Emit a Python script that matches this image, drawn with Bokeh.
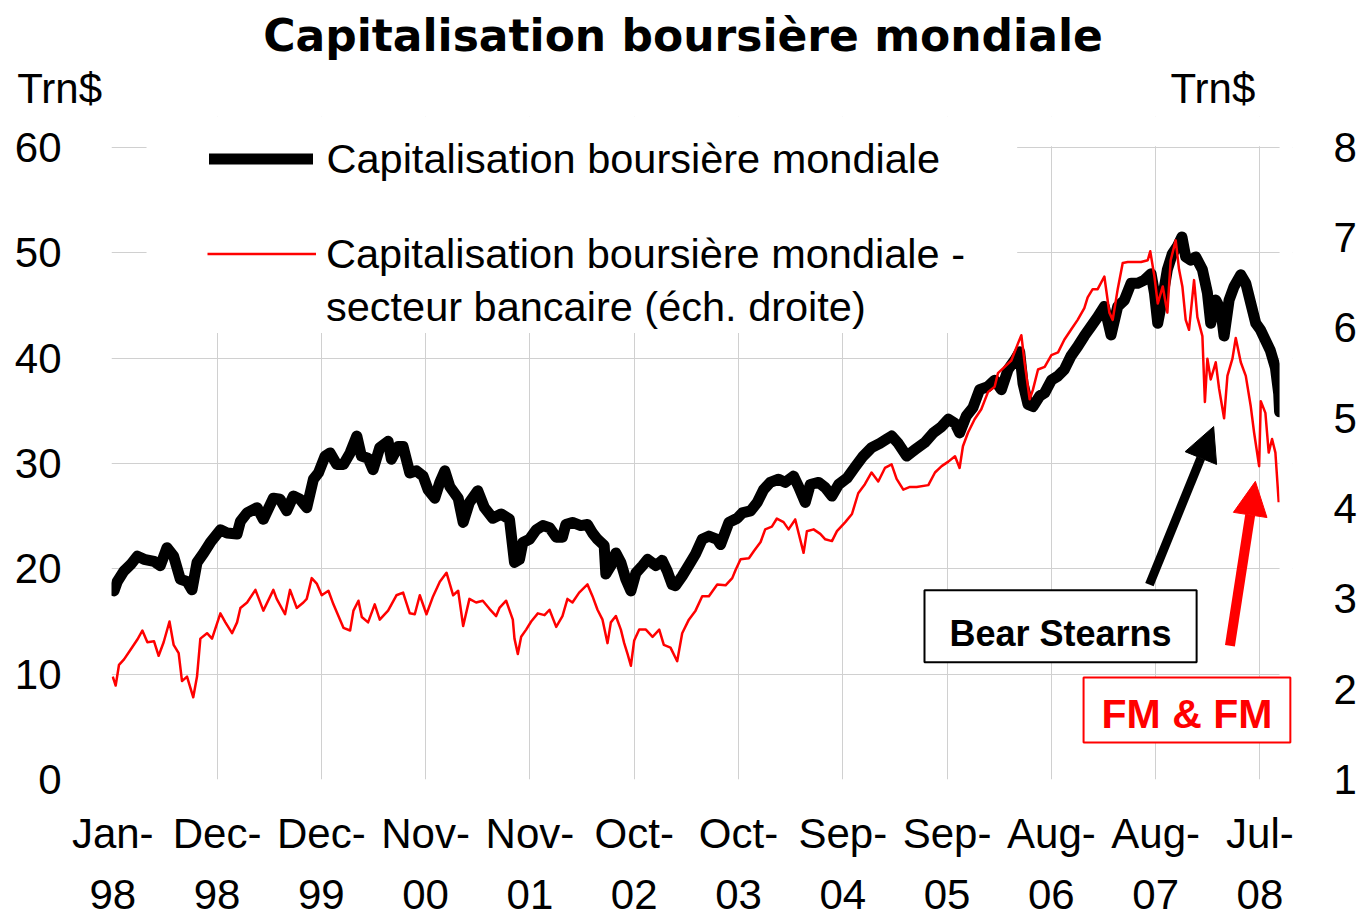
from bokeh.plotting import figure
from bokeh.layouts import column
from bokeh.models import (Range1d, LinearAxis, FixedTicker, Legend, LegendItem,
                          Label, Arrow, NormalHead, BoxAnnotation)
from bokeh.embed import file_html
from bokeh.resources import INLINE

FONT = "Liberation Sans"

# x positions are trading-day indices counted from Jan-98
tick_pos = [0, 250, 500, 750, 1000, 1250, 1500, 1750, 2000, 2250, 2500, 2750]
tick_labels = ["Jan-\n98", "Dec-\n98", "Dec-\n99", "Nov-\n00", "Nov-\n01", "Oct-\n02",
               "Oct-\n03", "Sep-\n04", "Sep-\n05", "Aug-\n06", "Aug-\n07", "Jul-\n08"]
left_ticks = [0, 10, 20, 30, 40, 50, 60]
right_ticks = [1, 2, 3, 4, 5, 6, 7, 8]

# World market capitalisation (Trn$, left axis)
world_idx = [
    3, 11, 27, 43, 59, 75, 99, 114, 130, 146,
    162, 178, 190, 202, 218, 234, 258, 274, 298, 306,
    322, 346, 361, 385, 401, 417, 433, 449, 465, 481,
    493, 509, 521, 537, 553, 569, 585, 596, 612, 624,
    640, 660, 668, 684, 696, 712, 728, 744, 756, 772,
    784, 796, 808, 828, 840, 855, 875, 891, 911, 931,
    951, 963, 975, 983, 999, 1015, 1031, 1047, 1063, 1078,
    1086, 1102, 1122, 1138, 1150, 1162, 1178, 1182, 1194, 1206,
    1218, 1230, 1242, 1254, 1270, 1282, 1302, 1317, 1329, 1341,
    1349, 1365, 1385, 1397, 1413, 1429, 1449, 1457, 1477, 1497,
    1509, 1529, 1545, 1560, 1576, 1596, 1612, 1632, 1644, 1660,
    1672, 1692, 1708, 1724, 1740, 1760, 1780, 1799, 1819, 1839,
    1855, 1867, 1883, 1903, 1923, 1947, 1967, 1987, 2003, 2019,
    2030, 2046, 2062, 2078, 2098, 2114, 2130, 2146, 2162, 2174,
    2182, 2194, 2206, 2222, 2234, 2250, 2266, 2281, 2297, 2313,
    2329, 2345, 2361, 2377, 2393, 2409, 2425, 2441, 2457, 2473,
    2489, 2497, 2505, 2517, 2528, 2540, 2552, 2563, 2572, 2584,
    2596, 2612, 2624, 2632, 2644, 2656, 2664, 2676, 2688, 2704,
    2716, 2728, 2740, 2751, 2763, 2775, 2787, 2795, 2797]
world_val = [
    17.9, 18.8, 19.8, 20.4, 21.2, 20.9, 20.7, 20.3, 22.0, 21.2,
    19.0, 18.8, 18.0, 20.6, 21.5, 22.5, 23.7, 23.4, 23.3, 24.5,
    25.3, 25.8, 24.7, 26.7, 26.6, 25.5, 26.9, 26.6, 25.8, 28.5,
    29.1, 30.7, 31.0, 29.9, 29.9, 31.0, 32.6, 30.7, 30.5, 29.4,
    31.5, 32.1, 30.4, 31.6, 31.6, 29.1, 29.3, 28.8, 27.5, 26.7,
    28.2, 29.3, 27.8, 26.7, 24.4, 26.3, 27.4, 25.8, 24.8, 25.2,
    24.7, 20.6, 20.9, 22.5, 22.8, 23.7, 24.1, 23.9, 23.0, 23.0,
    24.2, 24.4, 24.1, 24.2, 23.4, 22.8, 22.2, 19.5, 20.3, 21.5,
    20.6, 19.0, 17.9, 19.6, 20.3, 20.9, 20.3, 20.8, 19.8, 18.5,
    18.4, 19.3, 20.6, 21.4, 22.8, 23.1, 22.8, 22.3, 24.4, 24.8,
    25.3, 25.5, 26.3, 27.5, 28.2, 28.5, 28.2, 28.8, 27.8, 26.3,
    28.0, 28.2, 27.7, 26.9, 28.0, 28.6, 29.7, 30.7, 31.5, 31.9,
    32.3, 32.6, 31.9, 30.7, 31.3, 32.0, 32.9, 33.5, 34.2, 33.8,
    32.9, 34.5, 35.3, 37.0, 37.3, 37.9, 37.0, 38.9, 39.8, 40.6,
    37.6, 35.6, 35.4, 36.4, 36.7, 37.9, 38.3, 38.9, 40.2, 41.1,
    42.1, 43.0, 43.9, 44.9, 42.2, 44.9, 45.5, 47.1, 47.1, 47.4,
    48.0, 46.2, 43.3, 45.8, 48.4, 49.9, 50.6, 51.5, 49.6, 49.3,
    49.6, 48.4, 46.2, 43.3, 45.5, 44.6, 42.1, 45.5, 46.8, 47.9,
    47.1, 45.2, 43.3, 42.7, 41.7, 40.7, 39.1, 36.6, 34.9]

# World market capitalisation - banking sector (Trn$, right axis)
bank_idx = [
    0, 7, 15, 27, 43, 59, 71, 83, 99, 110,
    122, 136, 146, 158, 166, 178, 193, 202, 210, 226,
    238, 258, 270, 286, 298, 306, 322, 342, 361, 385,
    393, 413, 425, 441, 457, 465, 477, 489, 501, 517,
    529, 541, 553, 569, 577, 589, 597, 612, 628, 640,
    660, 680, 696, 712, 724, 736, 752, 768, 784, 800,
    816, 828, 840, 855, 871, 887, 903, 919, 927, 943,
    959, 963, 971, 979, 991, 1003, 1019, 1035, 1047, 1063,
    1078, 1090, 1102, 1118, 1138, 1150, 1162, 1174, 1186, 1194,
    1206, 1218, 1226, 1234, 1242, 1250, 1262, 1278, 1294, 1310,
    1321, 1337, 1353, 1365, 1381, 1397, 1413, 1429, 1449, 1469,
    1485, 1493, 1505, 1525, 1537, 1553, 1564, 1580, 1592, 1608,
    1620, 1636, 1644, 1656, 1664, 1680, 1696, 1708, 1724, 1736,
    1756, 1772, 1787, 1803, 1819, 1835, 1851, 1867, 1879, 1895,
    1911, 1927, 1955, 1971, 1987, 2003, 2019, 2030, 2038, 2050,
    2066, 2082, 2098, 2114, 2122, 2138, 2154, 2170, 2178, 2186,
    2198, 2206, 2218, 2234, 2250, 2266, 2281, 2297, 2313, 2329,
    2337, 2349, 2361, 2377, 2389, 2397, 2409, 2421, 2433, 2449,
    2465, 2481, 2487, 2497, 2505, 2517, 2528, 2536, 2548, 2556,
    2564, 2572, 2580, 2592, 2600, 2612, 2618, 2624, 2632, 2644,
    2652, 2664, 2672, 2684, 2692, 2704, 2716, 2728, 2736, 2748,
    2752, 2763, 2771, 2779, 2787, 2795]
bank_val = [
    2.14, 2.04, 2.27, 2.33, 2.44, 2.55, 2.65, 2.52, 2.53, 2.37,
    2.52, 2.75, 2.49, 2.40, 2.09, 2.14, 1.91, 2.14, 2.56, 2.62,
    2.56, 2.84, 2.74, 2.62, 2.74, 2.90, 2.96, 3.10, 2.87, 3.10,
    3.00, 2.83, 3.10, 2.90, 2.96, 3.00, 3.23, 3.17, 3.04, 3.09,
    2.94, 2.81, 2.68, 2.65, 2.87, 2.98, 2.80, 2.74, 2.94, 2.77,
    2.87, 3.04, 3.07, 2.84, 2.83, 3.04, 2.83, 3.03, 3.19, 3.29,
    3.04, 3.09, 2.70, 3.00, 2.96, 2.98, 2.89, 2.81, 2.90, 2.98,
    2.77, 2.56, 2.39, 2.58, 2.66, 2.75, 2.84, 2.82, 2.88, 2.69,
    2.81, 3.00, 2.96, 3.07, 3.16, 3.03, 2.88, 2.77, 2.51, 2.74,
    2.81, 2.66, 2.51, 2.39, 2.26, 2.54, 2.66, 2.66, 2.58, 2.66,
    2.49, 2.46, 2.31, 2.62, 2.77, 2.87, 3.03, 3.03, 3.16, 3.15,
    3.23, 3.32, 3.44, 3.45, 3.53, 3.63, 3.77, 3.80, 3.89, 3.85,
    3.77, 3.88, 3.73, 3.51, 3.75, 3.77, 3.72, 3.66, 3.64, 3.75,
    3.85, 3.94, 4.17, 4.27, 4.40, 4.30, 4.45, 4.49, 4.33, 4.21,
    4.24, 4.24, 4.26, 4.40, 4.47, 4.52, 4.58, 4.45, 4.69, 4.84,
    4.99, 5.10, 5.29, 5.35, 5.50, 5.57, 5.64, 5.83, 5.92, 5.61,
    5.21, 5.32, 5.54, 5.57, 5.70, 5.73, 5.87, 5.98, 6.09, 6.22,
    6.34, 6.43, 6.43, 6.57, 6.17, 6.09, 6.43, 6.72, 6.73, 6.73,
    6.73, 6.75, 6.85, 6.57, 6.27, 6.46, 6.17, 6.75, 6.97, 6.65,
    6.46, 6.09, 5.98, 6.53, 6.12, 5.91, 5.18, 5.66, 5.43, 5.62,
    5.33, 5.00, 5.47, 5.66, 5.89, 5.62, 5.47, 5.13, 4.84, 4.47,
    5.19, 5.06, 4.62, 4.77, 4.62, 4.07]

title_text = "Capitalisation boursière mondiale"
unit_text = "Trn$"
legend_world = "Capitalisation boursière mondiale"
legend_bank_1 = "Capitalisation boursière mondiale -"
legend_bank_2 = "secteur bancaire (éch. droite)"

# ---- header strip: title and the two unit labels (page pixels) ----
HDR_H = 116
hdr = figure(width=1359, height=HDR_H, output_backend="svg", toolbar_location=None,
             title=None, x_range=Range1d(0, 1359), y_range=Range1d(0, HDR_H),
             min_border=0, x_axis_location=None, y_axis_location=None)
hdr.frame_align = False
hdr.outline_line_color = None
hdr.grid.visible = False
hdr.add_layout(Label(x=682.5, y=81.5, text=title_text, text_align="center",
                     text_baseline="alphabetic", text_font="DejaVu Sans",
                     text_font_size="44px", text_font_style="bold", text_color="black"))
hdr.add_layout(Label(x=16.7, y=27.7, text=unit_text, text_align="left",
                     text_baseline="alphabetic", text_font=FONT,
                     text_font_size="42px", text_color="black"))
hdr.add_layout(Label(x=1170, y=27.7, text=unit_text, text_align="left",
                     text_baseline="alphabetic", text_font=FONT,
                     text_font_size="42px", text_color="black"))

# ---- main chart: frame x 111..1295 px, y 116..781 px (grid only 0..60) ----
p = figure(width=1359, height=920 - HDR_H, output_backend="svg", toolbar_location=None,
           title=None,
           x_range=Range1d(-3, 2828), y_range=Range1d(0, 62.93),
           min_border_left=111, min_border_right=64, min_border_top=0,
           min_border_bottom=139)
p.frame_align = False
p.extra_y_ranges = {"right": Range1d(1, 8.342)}
p.outline_line_color = None
p.background_fill_color = "white"

GRID = "#d0d0d0"
p.xgrid.ticker = FixedTicker(ticks=tick_pos[1:])
p.ygrid.ticker = FixedTicker(ticks=left_ticks)
p.xgrid.grid_line_color = GRID
p.ygrid.grid_line_color = GRID

def style_axis(ax, standoff):
    ax.axis_line_color = None
    ax.major_tick_line_color = None
    ax.minor_tick_line_color = None
    ax.major_label_text_font = FONT
    ax.major_label_text_font_size = "42px"
    ax.major_label_text_color = "black"
    ax.major_label_standoff = standoff

p.xaxis.ticker = FixedTicker(ticks=tick_pos)
p.xaxis.major_label_overrides = dict(zip(tick_pos, tick_labels))
style_axis(p.xaxis[0], 24)
p.xaxis.major_label_text_line_height = 1.3

p.yaxis.ticker = FixedTicker(ticks=left_ticks)
style_axis(p.yaxis[0], 44)

raxis = LinearAxis(y_range_name="right", ticker=FixedTicker(ticks=right_ticks))
style_axis(raxis, 35)
p.add_layout(raxis, "right")

world = p.line(world_idx, world_val, line_color="black", line_width=11,
               line_join="round", line_cap="round")
bank = p.line(bank_idx, bank_val, line_color="#ff0000", line_width=2.5,
              line_join="round", y_range_name="right")

# white panels: above the 60 line, right of the plot area, and behind the legend
p.add_layout(BoxAnnotation(left=-10, right=2900, bottom=60.1, top=70,
                           fill_color="white", fill_alpha=1.0, line_color=None))
p.add_layout(BoxAnnotation(left=2797, right=2900, bottom=-5, top=70,
                           fill_color="white", fill_alpha=1.0, line_color=None))
p.add_layout(BoxAnnotation(left=81, right=2168, bottom=42.37, top=61,
                           fill_color="white", fill_alpha=1.0, line_color=None))

common = dict(padding=0, margin=0, spacing=0, glyph_height=53, label_height=53,
              label_text_font=FONT, label_text_font_size="41.5px",
              label_text_color="black", background_fill_color="white",
              background_fill_alpha=1.0, border_line_color=None)
legend_a = Legend(items=[LegendItem(label=legend_world, renderers=[world])],
                  location=(97.5, 594), glyph_width=104, label_standoff=14, **common)
legend_b = Legend(items=[LegendItem(label=legend_bank_1, renderers=[bank]),
                         LegendItem(label=legend_bank_2, renderers=[])],
                  location=(96, 446), glyph_width=109, label_standoff=10, **common)
p.add_layout(legend_a, "center")
p.add_layout(legend_b, "center")

p.add_layout(Arrow(end=NormalHead(size=34, fill_color="black", line_color="black"),
                   x_start=2485, y_start=18.5, x_end=2639, y_end=33.5,
                   line_color="black", line_width=9))
p.add_layout(Arrow(end=NormalHead(size=34, fill_color="#ff0000", line_color="#ff0000"),
                   x_start=2678, y_start=12.7, x_end=2739, y_end=28.3,
                   line_color="#ff0000", line_width=10))

p.add_layout(Label(x=2272, y=14.55, text="Bear Stearns", text_align="center",
                   text_baseline="alphabetic", text_font=FONT,
                   text_font_size="36px", text_font_style="bold", text_color="black",
                   background_fill_color="white", border_line_color="black",
                   border_line_width=2,
                   padding=dict(left=25, right=25, top=23, bottom=8)))
p.add_layout(Label(x=2575, y=6.60, text="FM & FM", text_align="center",
                   text_baseline="alphabetic", text_font=FONT,
                   text_font_size="41px", text_font_style="bold", text_color="#ff0000",
                   background_fill_color="white", border_line_color="#ff0000",
                   border_line_width=2,
                   padding=dict(left=18, right=18, top=14, bottom=5)))

page = column(hdr, p, spacing=0)
open("out.html", "w").write(file_html(page, INLINE))
